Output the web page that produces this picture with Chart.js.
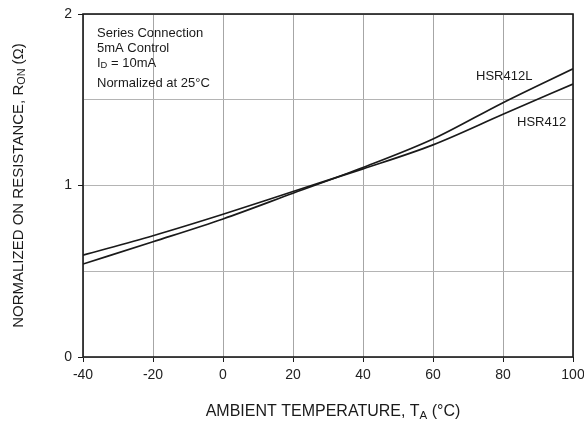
<!DOCTYPE html>
<html>
<head>
<meta charset="utf-8">
<script src="https://cdn.jsdelivr.net/npm/chart.js@4/dist/chart.umd.min.js"></script>
<style>
  html, body { margin: 0; padding: 0; background: #fff; }
  #wrap { width: 584px; height: 425px; }
</style>
</head>
<body>
<div id="wrap"><canvas id="ron-chart" width="584" height="425"></canvas></div>
<script>
// Temperatures (°C) and normalized on-resistance
const temps = [-40, -20, 0, 20, 40, 60, 80, 100];
const hsr412L = [0.542, 0.672, 0.805, 0.955, 1.105, 1.271, 1.483, 1.681];
const hsr412 = [0.594, 0.707, 0.832, 0.965, 1.097, 1.237, 1.415, 1.592];

const xTicks = [-40, -20, 0, 20, 40, 60, 80, 100];
const yTicks = [0, 1, 2];

const FONT = "'Liberation Sans', Arial, Helvetica, sans-serif";
const INK = "#1a1a1a";

// draw a run of text pieces, some as subscripts
function drawRuns(ctx, runs, x, y, size) {
    let cx = x;
    runs.forEach(r => {
        const s = r.sub ? size * 0.72 : size;
        ctx.font = s + "px " + FONT;
        ctx.fillText(r.t, cx, r.sub ? y + size * 0.22 : y);
        cx += ctx.measureText(r.t).width;
    });
    return cx - x;
}
function runsWidth(ctx, runs, size) {
    let w = 0;
    runs.forEach(r => {
        ctx.font = (r.sub ? size * 0.72 : size) + "px " + FONT;
        w += ctx.measureText(r.t).width;
    });
    return w;
}

const decorations = {
    id: "decorations",
    afterDraw(chart) {
        const ctx = chart.ctx;
        const a = chart.chartArea;
        const xs = chart.scales.x;
        ctx.save();

        // frame
        ctx.strokeStyle = INK;
        ctx.lineWidth = 1.6;
        ctx.strokeRect(a.left, a.top, a.right - a.left, a.bottom - a.top);

        ctx.fillStyle = INK;
        ctx.textBaseline = "middle";
        ctx.textAlign = "left";

        // note box text
        const nx = a.left + 14;
        drawRuns(ctx, [{t: "Series Connection"}], nx, 33.5, 13);
        drawRuns(ctx, [{t: "5mA Control"}], nx, 48, 13);
        drawRuns(ctx, [{t: "I"}, {t: "D", sub: true}, {t: " = 10mA"}], nx, 63, 13);
        drawRuns(ctx, [{t: "Normalized at 25°C"}], nx, 83, 13);

        // curve labels
        drawRuns(ctx, [{t: "HSR412L"}], xs.getPixelForValue(72.3), 76, 13);
        drawRuns(ctx, [{t: "HSR412"}], xs.getPixelForValue(84), 122, 13);

        // x title
        const xt = [{t: "AMBIENT TEMPERATURE, T"}, {t: "A", sub: true}, {t: " (°C)"}];
        const xw = runsWidth(ctx, xt, 16);
        drawRuns(ctx, xt, (a.left + a.right) / 2 - xw / 2 + 5, 412, 16);

        // y title
        const yt = [{t: "NORMALIZED ON RESISTANCE, R"}, {t: "ON", sub: true}, {t: " (Ω)"}];
        ctx.translate(19, (a.top + a.bottom) / 2);
        ctx.rotate(-Math.PI / 2);
        const yw = runsWidth(ctx, yt, 15);
        drawRuns(ctx, yt, -yw / 2, 0, 15);

        ctx.restore();
    }
};

new Chart("ron-chart", {
    type: "line",
    data: {
        datasets: [
            {
                label: "HSR412L",
                data: temps.map((t, i) => ({x: t, y: hsr412L[i]})),
                borderColor: INK,
                borderWidth: 1.7,
                pointRadius: 0,
                cubicInterpolationMode: "monotone"
            },
            {
                label: "HSR412",
                data: temps.map((t, i) => ({x: t, y: hsr412[i]})),
                borderColor: INK,
                borderWidth: 1.7,
                pointRadius: 0,
                cubicInterpolationMode: "monotone"
            }
        ]
    },
    options: {
        responsive: false,
        animation: false,
        layout: { padding: { top: 14, right: 11, left: 0, bottom: 0 } },
        plugins: { legend: { display: false }, tooltip: { enabled: false } },
        scales: {
            x: {
                type: "linear",
                min: -40,
                max: 100,
                afterBuildTicks: s => { s.ticks = xTicks.map(v => ({value: v})); },
                afterFit: s => { s.height = 68; s.paddingLeft = 0; s.paddingRight = 0; },
                ticks: {
                    font: { family: FONT, size: 14 },
                    color: "#222",
                    padding: 5,
                    maxRotation: 0
                },
                grid: {
                    color: "#a6a6a6",
                    lineWidth: 1,
                    tickLength: 5,
                    tickColor: INK
                },
                border: { display: false }
            },
            y: {
                min: 0,
                max: 2,
                ticks: {
                    stepSize: 0.5,
                    font: { family: FONT, size: 14 },
                    color: "#222",
                    padding: 6,
                    callback: v => yTicks.includes(v) ? String(v) : ""
                },
                afterFit: s => { s.width = 83; s.paddingTop = 0; s.paddingBottom = 0; },
                grid: {
                    color: "#b4b4b4",
                    lineWidth: 1,
                    tickLength: 5,
                    tickColor: c => yTicks.includes(c.tick.value) ? INK : "rgba(0,0,0,0)"
                },
                border: { display: false }
            }
        }
    },
    plugins: [decorations]
});
</script>
</body>
</html>
